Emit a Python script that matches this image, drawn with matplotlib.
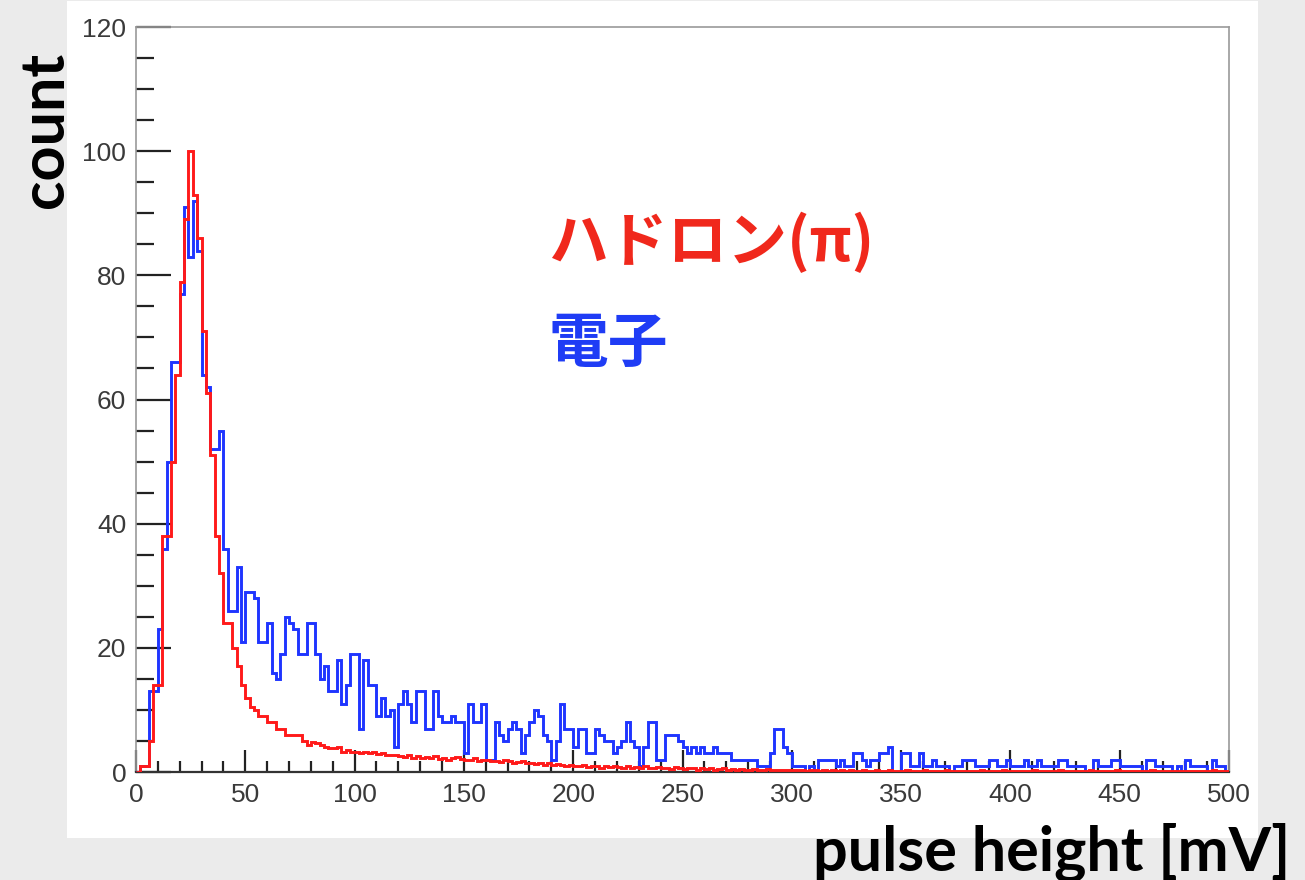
import numpy as np
import matplotlib
matplotlib.use("Agg")
import matplotlib.pyplot as plt
from matplotlib.patches import Rectangle
from matplotlib.ticker import MultipleLocator

# ---- data (2 mV bins, 0-500 mV) ----
bin_width = 2.0
n_bins = 250

hadron_counts = [
    0, 1, 1, 5, 14, 14, 38, 38, 50, 64,
    79, 89, 100, 93, 86, 71, 61, 51, 38, 32,
    24, 24, 20, 17, 14, 12, 10.5, 10, 9, 9,
    8, 8, 7, 7, 6, 6, 6, 6, 5, 4.3,
    4.8, 4.6, 4.3, 4.1, 3.9, 3.8, 4.0, 3.2, 3.6, 3.2,
    3.2, 3.1, 3.2, 3.0, 3.2, 2.9, 3.1, 2.8, 2.7, 2.8,
    2.6, 2.4, 2.7, 2.3, 2.5, 2.2, 2.4, 2.3, 2.6, 2.1,
    2.3, 2.0, 2.2, 2.4, 2.1, 1.9, 2.0, 2.2, 1.8, 1.9,
    2.0, 1.7, 1.8, 1.6, 1.9, 1.7, 1.5, 1.6, 1.8, 1.4,
    1.5, 1.3, 1.4, 1.2, 1.4, 1.1, 1.3, 1.2, 1.0, 1.2,
    1.0, 0.9, 1.1, 0.8, 0.9, 1.0, 0.7, 0.9, 0.8, 1.0,
    0.8, 0.7, 0.9, 0.6, 0.8, 0.7, 0.9, 0.6, 0.7, 0.8,
    0.6, 0.7, 0.5, 0.8, 0.6, 0.5, 0.7, 0.6, 0.4, 0.6,
    0.5, 0.6, 0.4, 0.5, 0.6, 0.4, 0.5, 0.3, 0.5, 0.4,
    0.4, 0.5, 0.3, 0.4, 0.5, 0.3, 0.4, 0.3, 0.4, 0.3,
    0.4, 0.3, 0.3, 0.2, 0.3, 0.4, 0.2, 0.3, 0.2, 0.3,
    0.2, 0.3, 0.2, 0.3, 0.2, 0.2, 0.3, 0.2, 0.2, 0.3,
    0.2, 0.2, 0.3, 0.2, 0.2, 0.2, 0.3, 0.2, 0.2, 0.2,
    0.3, 0.2, 0.2, 0.2, 0.2, 0.3, 0.2, 0.2, 0.2, 0.2,
    0.2, 0.2, 0.2, 0.3, 0.2, 0.2, 0.2, 0.2, 0.3, 0.2,
    0.2, 0.2, 0.2, 0.2, 0.2, 0.3, 0.2, 0.2, 0.2, 0.2,
    0.2, 0.3, 0.2, 0.2, 0.2, 0.2, 0.2, 0.2, 0.3, 0.2,
    0.2, 0.2, 0.2, 0.2, 0.3, 0.2, 0.2, 0.2, 0.2, 0.2,
    0.2, 0.2, 0.3, 0.2, 0.2, 0.2, 0.2, 0.2, 0.2, 0.2,
    0.2, 0.2, 0.2, 0.2, 0.2, 0.2, 0.3, 0.2, 0.2, 0.2,
]

electron_counts = [
    0, 1, 1, 13, 13, 23, 36, 50, 66, 66,
    77, 91, 83, 92, 84, 64, 62, 52, 52, 55,
    36, 26, 26, 33, 21, 29, 29, 28, 21, 21,
    24, 16, 15, 19, 25, 24, 23, 19, 19, 24,
    24, 19, 15, 17, 13, 13, 18, 11, 14, 19,
    19, 7, 18, 14, 14, 9, 12, 9, 10, 4,
    11, 13, 11, 8, 13, 13, 7, 7, 13, 9,
    8, 8, 9, 8, 8, 3, 11, 8, 8, 11,
    2, 2, 8, 6, 5, 7, 8, 7, 3, 6,
    8, 10, 9, 6, 5, 2, 5, 11, 7, 7,
    4, 7, 7, 3, 3, 7, 6, 5, 5, 3,
    4, 5, 8, 5, 4, 1, 4, 8, 8, 2,
    2, 6, 6, 6, 5, 4, 3, 4, 3, 4,
    3, 3, 4, 3, 3, 3, 2, 2, 2, 2,
    2, 2, 1, 1, 1, 3, 7, 7, 4, 3,
    1, 1, 1, 0, 1, 0, 2, 2, 2, 2,
    1, 2, 1, 1, 3, 3, 2, 1, 2, 2,
    3, 3, 4, 0, 0, 3, 3, 1, 1, 3,
    1, 1, 2, 1, 1, 1, 0, 1, 1, 2,
    2, 2, 1, 1, 1, 2, 2, 1, 1, 2,
    1, 1, 1, 2, 1, 1, 2, 1, 1, 1,
    1, 2, 2, 1, 1, 1, 1, 0, 0, 2,
    1, 1, 1, 2, 2, 1, 1, 1, 1, 1,
    0, 2, 2, 1, 1, 1, 1, 0, 1, 0,
    2, 1, 1, 1, 1, 0, 2, 1, 1, 0,
]

x_major_ticks = [0, 50, 100, 150, 200, 250, 300, 350, 400, 450, 500]
y_major_ticks = [0, 20, 40, 60, 80, 100, 120]
label_hadron = "ハドロン(π)"
label_electron = "電子"
xlabel = "pulse height [mV]"
ylabel = "count"

# ---- figure ----
W, H = 1305, 880
fig = plt.figure(figsize=(W / 100, H / 100), dpi=100)
fig.patch.set_facecolor("#ebebeb")

# white slide panel behind the plot
fig.add_artist(Rectangle((67 / W, 1 - 838 / H), (1258 - 67) / W, (838 - 1) / H,
                         transform=fig.transFigure, facecolor="white",
                         edgecolor="none", zorder=0))

ax = fig.add_axes([136 / W, 1 - 772 / H, (1229 - 136) / W, (772 - 27) / H])
ax.set_facecolor("white")

edges = np.arange(n_bins + 1) * bin_width
ax.stairs(electron_counts, edges, color="#1f35ff", lw=2.1, baseline=0, zorder=3)
ax.stairs(hadron_counts, edges, color="#ff1a1a", lw=2.1, baseline=0, zorder=4)

ax.set_xlim(0, 500)
ax.set_ylim(0, 120)

ax.set_xticks(x_major_ticks)
ax.set_yticks(y_major_ticks)
ax.xaxis.set_minor_locator(MultipleLocator(10))
ax.yaxis.set_minor_locator(MultipleLocator(5))

tick_font = dict(family="Liberation Sans", size=19)
ax.set_xticklabels([str(t) for t in x_major_ticks], fontdict=tick_font, color="#3a3a3a")
ax.set_yticklabels([str(t) for t in y_major_ticks], fontdict=tick_font, color="#3a3a3a")

ax.tick_params(axis="x", which="major", direction="in", length=16, width=1.6,
               color="#222222", pad=8, top=False)
ax.tick_params(axis="x", which="minor", direction="in", length=8, width=1.6,
               color="#222222", top=False)
ax.tick_params(axis="y", which="major", direction="in", length=25, width=1.6,
               color="#222222", pad=7, right=False)
ax.tick_params(axis="y", which="minor", direction="in", length=13, width=1.6,
               color="#222222", right=False)

for side in ["left", "top", "right"]:
    ax.spines[side].set_color("#9a9a9a")
    ax.spines[side].set_linewidth(1.2)
ax.spines["bottom"].set_color("#333333")
ax.spines["bottom"].set_linewidth(1.6)

# axis titles (slide text)
fig.text(1290 / W, 1 - 852 / H, xlabel, ha="right", va="center",
         fontsize=44, fontweight="bold", family="Lato", color="black")
fig.text(45 / W, 1 - 130 / H, ylabel, ha="center", va="center", rotation=90,
         fontsize=44, fontweight="bold", family="Lato", color="black")

# series labels
fig.text(548 / W, 1 - 243 / H, label_hadron, ha="left", va="center",
         fontsize=43, fontweight="bold", family=["Noto Sans CJK JP", "DejaVu Sans"],
         color="#f0281c")
fig.text(548 / W, 1 - 345 / H, label_electron, ha="left", va="center",
         fontsize=43, fontweight="bold", family=["Noto Sans CJK JP", "DejaVu Sans"],
         color="#1f3cf5")

fig.savefig("out.png", dpi=100, facecolor=fig.get_facecolor())
